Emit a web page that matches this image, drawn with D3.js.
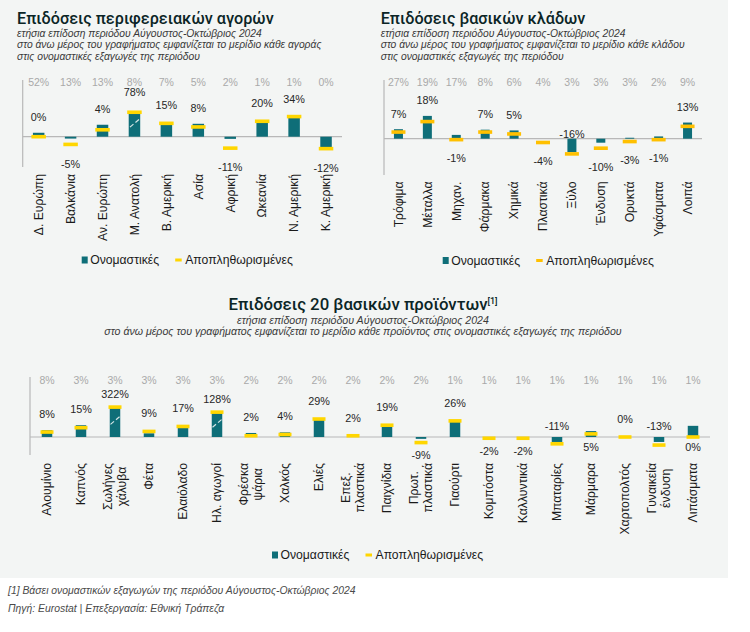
<!DOCTYPE html>
<html><head><meta charset="utf-8">
<script src="https://cdn.jsdelivr.net/npm/d3@7"></script>
<style>
html,body{margin:0;padding:0;background:#fff;}
svg{display:block;}
</style></head><body>
<svg id="c" width="750" height="632"></svg>
<script>
// ---------- DATA ----------
const marketCats = ["Δ. Ευρώπη","Βαλκάνια","Αν. Ευρώπη","Μ. Ανατολή","Β. Αμερική","Ασία","Αφρική","Ωκεανία","Ν. Αμερική","Κ. Αμερική"];
const marketShare = [52,13,13,8,7,5,2,1,1,0];
const marketNominal = [1.3,-0.3,12,76,16,14,-0.4,18,35,-13.5];
const marketReal = [0,-5,4,78,15,8,-11,20,34,-12];

const sectorCats = ["Τρόφιμα","Μέταλλα","Μηχαν.","Φάρμακα","Χημικά","Πλαστικά","Ξύλο","Ένδυση","Ορυκτά","Υφάσματα","Λοιπά"];
const sectorShare = [27,19,17,8,6,4,3,3,3,2,9];
const sectorNominal = [10,24,4,9.5,8.7,0,-14,-4.2,1,2.4,17];
const sectorReal = [7,18,-1,7,5,-4,-16,-10,-3,-1,13];

const productCats = ["Αλουμίνιο","Καπνός","Σωλήνες\nχάλυβα","Φέτα","Ελαιόλαδο","Ηλ. αγωγοί","Φρέσκα\nψάρια","Χαλκός","Ελιές","Επεξ.\nπλαστικά","Παιχνίδια","Πρωτ.\nπλαστικά","Γιαούρτι","Κομπόστα","Καλλυντικά","Μπαταρίες","Μάρμαρα","Χαρτοπολτός","Γυναικεία\nένδυση","Λιπάσματα"];
const productShare = [8,3,3,3,3,3,2,2,2,2,2,2,1,1,1,1,1,1,1,1];
const productNominal = [11,19,318,6,18,125,6.5,7.5,28,0,18,-3,25,0,0,-8,9.5,0,-8,18];
const productReal = [8,15,322,9,17,128,2,4,29,2,19,-9,26,-2,-2,-11,5,0,-13,0];

const legendNames = ["Ονομαστικές","Αποπληθωρισμένες"];

// ---------- STYLE ----------
const TEAL = "#0e6e78";
const YEL = "#ffd600";
const AMBER = "#ffc000";
const SANS = "'Liberation Sans', Arial, sans-serif";
const TITLEF = "Roboto, 'Noto Sans', sans-serif";

const svg = d3.select("#c");
svg.append("rect").attr("x",0).attr("y",0).attr("width",728).attr("height",578).attr("fill","#f3f5f4");

function titleBlock(x, y, anchor, title, sup, lines, tSize, sSize, lineGap) {
  const t = svg.append("text").attr("x",x).attr("y",y).attr("text-anchor",anchor)
    .attr("font-family",TITLEF).attr("font-weight",500).attr("font-size",tSize).attr("fill","#0b2526").text(title);
  if (sup) t.append("tspan").attr("font-size",9).attr("dy",-6.5).text(sup);
  lines.forEach((l,i)=>{
    svg.append("text").attr("x",x).attr("y",y+lineGap+i*11.4).attr("text-anchor",anchor)
      .attr("font-family",SANS).attr("font-style","italic").attr("font-size",sSize).attr("fill","#3a3a3a").text(l);
  });
}

function chart(cfg) {
  const g = svg.append("g");
  const xb = d3.scaleBand().domain(cfg.cats).range([cfg.x0, cfg.x1]);
  const disp = v => v > cfg.cap ? cfg.cap * Math.pow(v / cfg.cap, 0.2) : v;
  const y = v => cfg.scale(disp(v));
  const zero = y(0);
  const cx = c => xb(c) + xb.bandwidth()/2;

  g.append("line").attr("x1",cfg.x0).attr("x2",cfg.x0).attr("y1",cfg.axisTop).attr("y2",cfg.axisBottom)
    .attr("stroke","#b8b8b8").attr("stroke-width",1.2);
  g.append("line").attr("x1",cfg.x0).attr("x2",cfg.x1).attr("y1",zero).attr("y2",zero)
    .attr("stroke","#b8b8b8").attr("stroke-width",1.2);

  const rows = cfg.cats.map((c,i)=>({c, share:cfg.share[i], nom:cfg.nom[i], real:cfg.real[i]}));

  g.selectAll(".sh").data(rows).join("text")
    .attr("x", d=>cx(d.c)).attr("y", cfg.shareY).attr("text-anchor","middle")
    .attr("font-family",SANS).attr("font-size",10.5).attr("fill","#a9a9a9").text(d=>d.share+"%");

  g.selectAll(".bar").data(rows).join("rect")
    .attr("x", d=>cx(d.c)-cfg.barW/2).attr("width", cfg.barW)
    .attr("y", d=>Math.min(y(d.nom), zero)).attr("height", d=>Math.abs(y(d.nom)-zero))
    .attr("fill", TEAL);

  rows.filter(d=>d.nom > cfg.cap).forEach(d=>{
    const top = y(d.nom), h = zero - top, cy = top + h*0.45, x = cx(d.c);
    [[-4.5,3.8,-1,0.8],[1,-0.8,4.5,-3.8]].forEach(s=>{
      g.append("line").attr("x1",x+s[0]).attr("y1",cy+s[1]).attr("x2",x+s[2]).attr("y2",cy+s[3])
        .attr("stroke","#d6e6e6").attr("stroke-width",1.2);
    });
  });

  g.selectAll(".mk").data(rows).join("rect")
    .attr("x", d=>cx(d.c)-cfg.markW/2).attr("width", cfg.markW)
    .attr("y", d=>y(d.real)-1.8).attr("height", 3.6).attr("fill", cfg.mkColor);

  g.selectAll(".vl").data(rows).join("text")
    .attr("x", d=>cx(d.c)).attr("text-anchor","middle")
    .attr("font-family",SANS).attr("font-size",10.8).attr("fill","#262626")
    .attr("y", d=>{
      const top = Math.min(y(d.nom), y(d.real)-1.8, zero);
      const bot = Math.max(y(d.nom), y(d.real)+1.8, zero);
      const flip = cfg.flip.has(d.c);
      const pos = d.real >= 0;
      let c;
      if (flip) c = pos ? zero + 10 : zero - cfg.flipUp;
      else c = pos ? top - (d.nom > cfg.cap ? cfg.gapBroken : cfg.gapAbove) : bot + cfg.gapBelow;
      return c + 3.8;
    })
    .text(d=>d.real+"%");

  const ax = g.append("g").attr("transform",`translate(0,${cfg.labelY})`)
    .call(d3.axisBottom(xb).tickSize(0).tickPadding(0));
  ax.select(".domain").remove();
  ax.selectAll(".tick text").each(function(c){
    const t = d3.select(this);
    t.text(null).attr("y",null).attr("dy",null)
      .attr("font-family",SANS).attr("font-size",12.2).attr("fill","#1a1a1a")
      .attr("transform","rotate(-90)");
    const lines = c.split("\n");
    const spans = lines.map((ln,i)=> t.append("tspan").attr("y",(i-(lines.length-1)/2)*14).attr("dy","0.35em").text(ln));
    const lens = spans.map(s=>s.node().getComputedTextLength());
    const mx = d3.max(lens);
    spans.forEach(s=> s.attr("x", -mx/2).attr("text-anchor","middle"));
  });
  ax.selectAll(".tick text").attr("text-anchor","middle");
}

function legend(x, y, mk) {
  const g = svg.append("g").attr("font-family",SANS).attr("font-size",12.2).attr("fill","#1a1a1a");
  g.append("rect").attr("x",x).attr("y",y-3.5).attr("width",6).attr("height",7).attr("fill",TEAL);
  g.append("text").attr("x",x+8.5).attr("y",y+4.3).text(legendNames[0]);
  const x2 = x + 93.5;
  g.append("rect").attr("x",x2).attr("y",y-1.5).attr("width",6.5).attr("height",3).attr("fill",mk);
  g.append("text").attr("x",x2+10).attr("y",y+4.3).text(legendNames[1]);
}

// ---------- TOP LEFT ----------
titleBlock(17, 23.5, "start", "Επιδόσεις περιφερειακών αγορών", null,
  ["ετήσια επίδοση περιόδου Αύγουστος-Οκτώβριος 2024",
   "στο άνω μέρος του γραφήματος εμφανίζεται το μερίδιο κάθε αγοράς",
   "στις ονομαστικές εξαγωγές της περιόδου"], 16.2, 10.3, 13.2);
chart({
  cats: marketCats, share: marketShare, nom: marketNominal, real: marketReal,
  x0: 22.7, x1: 342, axisTop: 80, axisBottom: 167, shareY: 85.5, labelY: 174,
  scale: d3.scalePow().exponent(0.5).domain([-100,100]).range([136.7+34.5, 136.7-34.5]),
  cap: 45, barW: 11.5, markW: 14.5, mkColor: YEL,
  flip: new Set([]), flipUp: 9, gapAbove: 16, gapBelow: 17.5, gapBroken: 18
});
legend(81.7, 260, YEL);

// ---------- TOP RIGHT ----------
titleBlock(380.7, 23.5, "start", "Επιδόσεις βασικών κλάδων", null,
  ["ετήσια επίδοση περιόδου Αύγουστος-Οκτώβριος 2024",
   "στο άνω μέρος του γραφήματος εμφανίζεται το μερίδιο κάθε κλάδου",
   "στις ονομαστικές εξαγωγές της περιόδου"], 16.2, 10.3, 13.2);
chart({
  cats: sectorCats, share: sectorShare, nom: sectorNominal, real: sectorReal,
  x0: 384, x1: 702, axisTop: 80, axisBottom: 175, shareY: 85.5, labelY: 181.5,
  scale: d3.scaleLinear().domain([-20,20]).range([138.7+19, 138.7-19]),
  cap: Infinity, barW: 9, markW: 14, mkColor: AMBER,
  flip: new Set(["Ξύλο"]), flipUp: 5, gapAbove: 15.5, gapBelow: 17, gapBroken: 12
});
legend(442.7, 260.5, AMBER);

// ---------- BOTTOM ----------
titleBlock(363, 310, "middle", "Επιδόσεις 20 βασικών προϊόντων", "[1]",
  ["ετήσια επίδοση περιόδου Αύγουστος-Οκτώβριος 2024",
   "στο άνω μέρος του γραφήματος εμφανίζεται το μερίδιο κάθε προϊόντος στις ονομαστικές εξαγωγές της περιόδου"], 16.8, 10.6, 13.8);
chart({
  cats: productCats, share: productShare, nom: productNominal, real: productReal,
  x0: 30, x1: 710, axisTop: 377, axisBottom: 455, shareY: 383.5, labelY: 463,
  scale: d3.scaleLinear().domain([-20,20]).range([437+12.4, 437-12.4]),
  cap: 30, barW: 10.5, markW: 13, mkColor: YEL,
  flip: new Set(["Μπαταρίες","Μάρμαρα","Γυναικεία\nένδυση","Λιπάσματα"]), flipUp: 11, gapAbove: 16, gapBelow: 11, gapBroken: 11
});
legend(272, 555, YEL);

// ---------- FOOTER ----------
svg.append("text").attr("x",8).attr("y",594).attr("font-family",SANS).attr("font-style","italic")
  .attr("font-size",10.4).attr("fill","#4a4a4a").text("[1] Βάσει ονομαστικών εξαγωγών της περιόδου Αύγουστος-Οκτώβριος 2024");
svg.append("text").attr("x",8).attr("y",611.5).attr("font-family",SANS).attr("font-style","italic")
  .attr("font-size",10.4).attr("fill","#4a4a4a").text("Πηγή: Eurostat | Επεξεργασία: Εθνική Τράπεζα");
</script>
</body></html>
